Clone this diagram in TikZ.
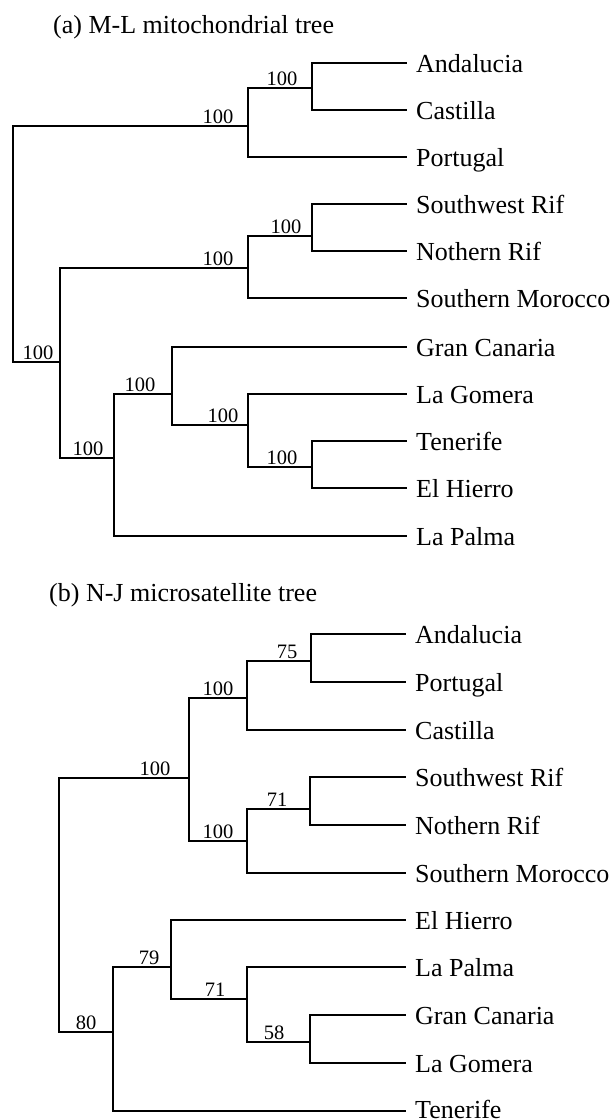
\documentclass[tikz,border=0pt]{standalone}
\usepackage{fontspec}
\setmainfont{Liberation Serif}
\begin{document}
\begin{tikzpicture}[x=1pt,y=-1pt,
  branch/.style={line width=1.6pt},
  leaf/.style={anchor=west, inner xsep=9pt, inner ysep=0pt, text height=18pt, text depth=0pt, font=\fontsize{26}{30}\selectfont},
  bs/.style={anchor=base, inner sep=0pt, font=\fontsize{20.5}{24}\selectfont},
  ttl/.style={anchor=base west, inner sep=0pt, font=\fontsize{26}{30}\selectfont}]
\useasboundingbox (0,0) rectangle (614,1120);
\fill[white] (0,0) rectangle (614,1120);

% ---------------- (a) ----------------
\node[ttl] (ta) at (53,33) {(a) M-L mitochondrial tree};

\coordinate (ar)   at (13,244);
\coordinate (aib)  at (248,126);
\coordinate (aac)  at (312,88);
\coordinate (aafr) at (60,362);
\coordinate (amo)  at (248,268);
\coordinate (arif) at (312,236);
\coordinate (acan) at (114,458);
\coordinate (ac2)  at (172,394);
\coordinate (ac3)  at (248,425);
\coordinate (ac4)  at (312,467);

\node[leaf] (aand) at (407,63)  {Andalucia};
\node[leaf] (acas) at (407,110) {Castilla};
\node[leaf] (apor) at (407,157) {Portugal};
\node[leaf] (asw)  at (407,204) {Southwest Rif};
\node[leaf] (anr)  at (407,251) {Nothern Rif};
\node[leaf] (asm)  at (407,298) {Southern Morocco};
\node[leaf] (agc)  at (407,347) {Gran Canaria};
\node[leaf] (alg)  at (407,394) {La Gomera};
\node[leaf] (ate)  at (407,441) {Tenerife};
\node[leaf] (aeh)  at (407,488) {El Hierro};
\node[leaf] (alp)  at (407,536) {La Palma};

\draw[branch] (ar) |- (aib);
\draw[branch] (ar) |- (aafr);
\draw[branch] (aib) |- (aac);
\draw[branch] (aib) |- (apor.west);
\draw[branch] (aac) |- (aand.west);
\draw[branch] (aac) |- (acas.west);
\draw[branch] (aafr) |- (amo);
\draw[branch] (aafr) |- (acan);
\draw[branch] (amo) |- (arif);
\draw[branch] (amo) |- (asm.west);
\draw[branch] (arif) |- (asw.west);
\draw[branch] (arif) |- (anr.west);
\draw[branch] (acan) |- (ac2);
\draw[branch] (acan) |- (alp.west);
\draw[branch] (ac2) |- (agc.west);
\draw[branch] (ac2) |- (ac3);
\draw[branch] (ac3) |- (alg.west);
\draw[branch] (ac3) |- (ac4);
\draw[branch] (ac4) |- (ate.west);
\draw[branch] (ac4) |- (aeh.west);

\node[bs] (la1) at (218,123) {100};
\node[bs] (la2) at (282,85)  {100};
\node[bs] (la3) at (286,233) {100};
\node[bs] (la4) at (218,265) {100};
\node[bs] (la5) at (38,359)  {100};
\node[bs] (la6) at (88,455)  {100};
\node[bs] (la7) at (140,391) {100};
\node[bs] (la8) at (223,422) {100};
\node[bs] (la9) at (282,464) {100};

% ---------------- (b) ----------------
\node[ttl] (tb) at (49,601) {(b) N-J microsatellite tree};

\coordinate (br)   at (59,905);
\coordinate (bno)  at (189,778);
\coordinate (bib)  at (247,698);
\coordinate (bap)  at (311,661);
\coordinate (bmo)  at (247,841);
\coordinate (brif) at (310,809);
\coordinate (bcan) at (113,1032);
\coordinate (bc2)  at (171,967);
\coordinate (bc3)  at (247,999);
\coordinate (bc4)  at (310,1042);

\node[leaf] (band) at (406,634)  {Andalucia};
\node[leaf] (bpor) at (406,682)  {Portugal};
\node[leaf] (bcas) at (406,730)  {Castilla};
\node[leaf] (bsw)  at (406,777)  {Southwest Rif};
\node[leaf] (bnr)  at (406,825)  {Nothern Rif};
\node[leaf] (bsm)  at (406,873)  {Southern Morocco};
\node[leaf] (beh)  at (406,920)  {El Hierro};
\node[leaf] (blp)  at (406,967)  {La Palma};
\node[leaf] (bgc)  at (406,1015) {Gran Canaria};
\node[leaf] (blg)  at (406,1063) {La Gomera};
\node[leaf, text height=15pt] (bte)  at (406,1111) {Tenerife};

\draw[branch] (br) |- (bno);
\draw[branch] (br) |- (bcan);
\draw[branch] (bno) |- (bib);
\draw[branch] (bno) |- (bmo);
\draw[branch] (bib) |- (bap);
\draw[branch] (bib) |- (bcas.west);
\draw[branch] (bap) |- (band.west);
\draw[branch] (bap) |- (bpor.west);
\draw[branch] (bmo) |- (brif);
\draw[branch] (bmo) |- (bsm.west);
\draw[branch] (brif) |- (bsw.west);
\draw[branch] (brif) |- (bnr.west);
\draw[branch] (bcan) |- (bc2);
\draw[branch] (bcan) |- (bte.west);
\draw[branch] (bc2) |- (beh.west);
\draw[branch] (bc2) |- (bc3);
\draw[branch] (bc3) |- (blp.west);
\draw[branch] (bc3) |- (bc4);
\draw[branch] (bc4) |- (bgc.west);
\draw[branch] (bc4) |- (blg.west);

\node[bs] (lb1) at (218,695)  {100};
\node[bs] (lb2) at (287,658)  {75};
\node[bs] (lb3) at (155,775)  {100};
\node[bs] (lb4) at (277,806)  {71};
\node[bs] (lb5) at (218,838)  {100};
\node[bs] (lb6) at (86,1029)  {80};
\node[bs] (lb7) at (149,964)  {79};
\node[bs] (lb8) at (215,996)  {71};
\node[bs] (lb9) at (274,1039) {58};
\end{tikzpicture}
\end{document}
